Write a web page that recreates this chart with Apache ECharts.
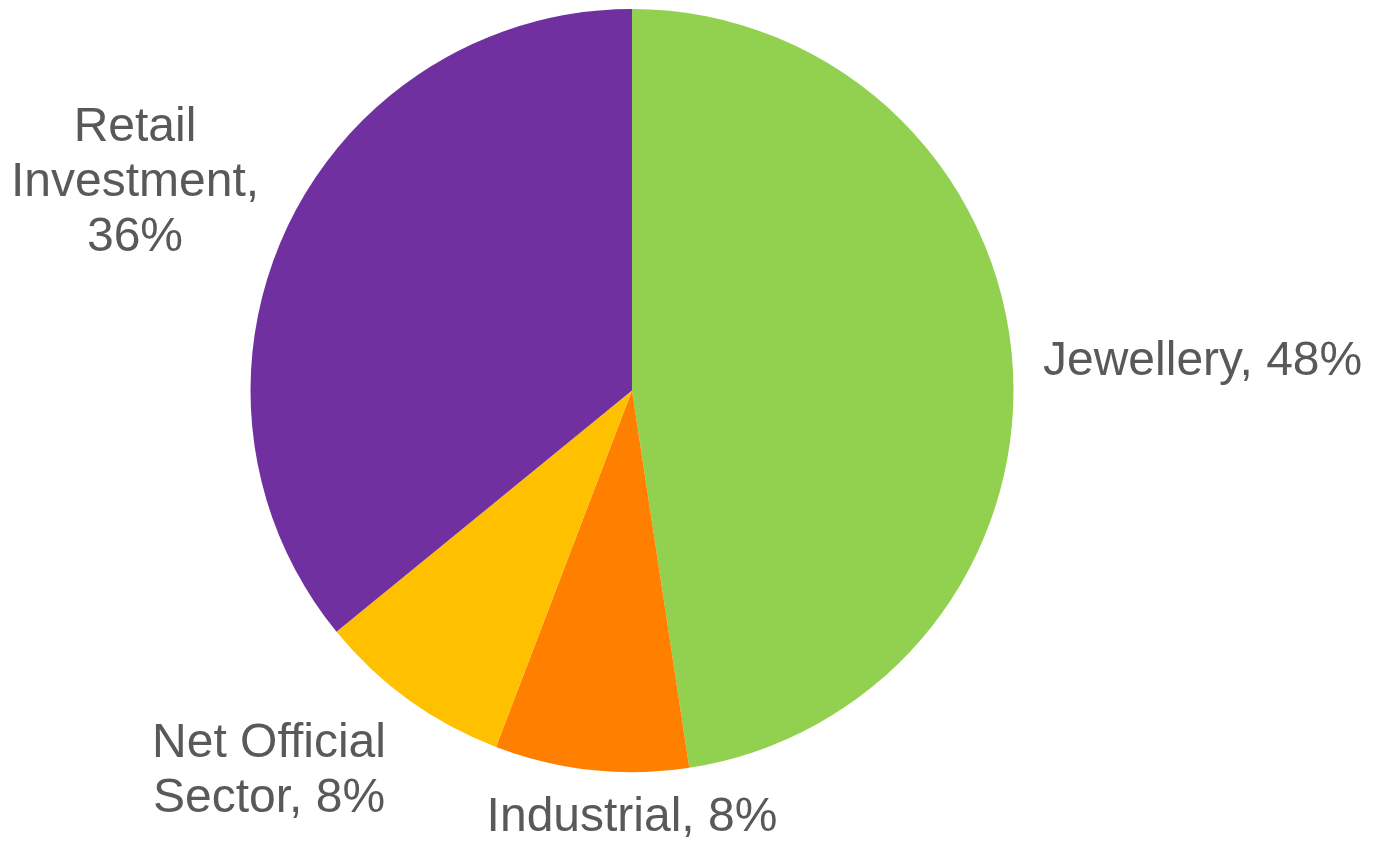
<!DOCTYPE html>
<html>
<head>
<meta charset="utf-8">
<script src="https://cdn.jsdelivr.net/npm/echarts@6/dist/echarts.min.js"></script>
<style>
html,body{margin:0;padding:0;background:#fff;}
#chart{width:1376px;height:841px;}
</style>
</head>
<body>
<div id="chart"></div>
<script>
var categories = ['Jewellery', 'Industrial', 'Net Official Sector', 'Retail Investment'];
var values = [47.6, 8.2, 8.3, 35.9];
var colors = ['#92D050', '#FF8000', '#FFC000', '#7030A0'];

// label text line-break style per slice (layout only)
var labelBreak = ['none', 'none', 'nameSplit', 'full'];
// label anchor points (layout only)
var labelPos = [
  {x: 1043, y: 362, align: 'left'},
  {x: 632, y: 818, align: 'center'},
  {x: 269, y: 771, align: 'center'},
  {x: 135, y: 183, align: 'center'}
];

var chart = echarts.init(document.getElementById('chart'), null, {renderer: 'canvas'});
var data = categories.map(function (c, i) {
  return {name: c, value: values[i], itemStyle: {color: colors[i]}};
});

chart.setOption({
  animation: false,
  series: [{
    type: 'pie',
    center: [632, 390.5],
    radius: [0, 381.5],
    startAngle: 90,
    clockwise: true,
    avoidLabelOverlap: false,
    data: data,
    itemStyle: {borderWidth: 0},
    label: {
      show: true,
      position: 'outside',
      fontFamily: '"Liberation Sans", Arial, sans-serif',
      fontSize: 48,
      lineHeight: 55,
      color: '#595959',
      formatter: function (p) {
        var pct = Math.round(p.percent) + '%';
        var mode = labelBreak[p.dataIndex];
        if (mode === 'full') {
          return p.name.replace(' ', '\n') + ',\n' + pct;
        } else if (mode === 'nameSplit') {
          var parts = p.name.split(' ');
          return parts.slice(0, parts.length - 1).join(' ') + '\n' + parts[parts.length - 1] + ', ' + pct;
        }
        return p.name + ', ' + pct;
      }
    },
    labelLine: {show: false},
    labelLayout: function (params) {
      var lp = labelPos[params.dataIndex];
      return {x: lp.x, y: lp.y, align: lp.align, verticalAlign: 'middle', hideOverlap: false};
    },
    emphasis: {disabled: true}
  }]
});
</script>
</body>
</html>
